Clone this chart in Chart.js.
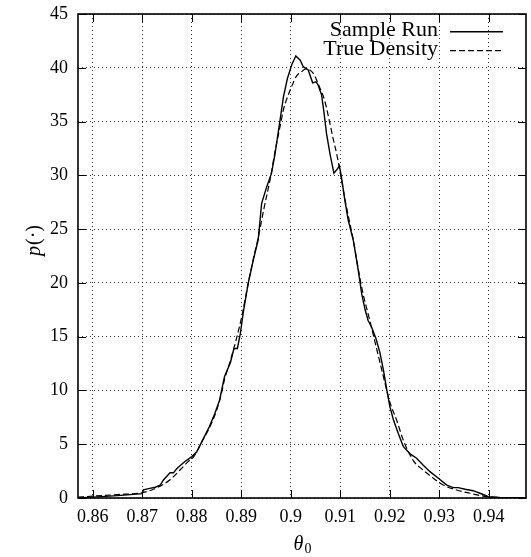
<!DOCTYPE html>
<html>
<head>
<meta charset="utf-8">
<script src="https://cdn.jsdelivr.net/npm/chart.js@4.4.1/dist/chart.umd.min.js"></script>
<style>
  html, body { margin: 0; padding: 0; background: #fff; }
  #wrap { width: 531px; height: 557px; }
</style>
</head>
<body>
<div id="wrap"><canvas id="chart" width="531" height="557"></canvas></div>
<script>
// Values.
const seriesLabels = ['Sample Run', 'True Density'];

const sampleX = [
  0.8570, 0.8600, 0.8650, 0.8700, 0.8702, 0.8715, 0.8726, 0.8736, 0.8743, 0.8756,
  0.8763, 0.8770, 0.8776, 0.8786, 0.8800, 0.8810, 0.8823, 0.8835, 0.8846, 0.8856,
  0.8866, 0.8878, 0.8885, 0.8892, 0.8898, 0.8904, 0.8914, 0.8924, 0.8934, 0.8941,
  0.8951, 0.8961, 0.8968, 0.8978, 0.8985, 0.8993, 0.9002, 0.9010, 0.9019, 0.9025,
  0.9035, 0.9044, 0.9051, 0.9055, 0.9062, 0.9067, 0.9072, 0.9079, 0.9087, 0.9094,
  0.9098, 0.9103, 0.9109, 0.9116, 0.9126, 0.9136, 0.9143, 0.9150, 0.9156, 0.9163,
  0.9172, 0.9180, 0.9187, 0.9194, 0.9200, 0.9207, 0.9217, 0.9227, 0.9241, 0.9254,
  0.9267, 0.9281, 0.9298, 0.9315, 0.9328, 0.9338, 0.9352, 0.9368, 0.9382, 0.9399,
  0.9422, 0.9475
];
const sampleY = [
  0.0, 0.08, 0.22, 0.4, 0.75, 0.9, 1.0, 1.2, 1.7, 2.35,
  2.35, 2.75, 3.0, 3.4, 3.85, 4.3, 5.5, 6.6, 7.8, 9.1,
  11.3, 12.6, 13.9, 13.9, 15.3, 17.3, 20.0, 22.1, 24.0, 27.4,
  28.9, 30.2, 32.0, 35.1, 37.3, 39.0, 40.3, 41.1, 40.7, 40.1,
  39.8, 38.6, 38.7, 38.4, 37.5, 35.8, 33.9, 32.0, 30.2, 30.6,
  30.9, 29.6, 27.7, 25.8, 24.0, 21.2, 19.0, 17.5, 16.5, 15.9,
  14.8, 13.5, 11.9, 10.0, 8.5, 7.3, 6.0, 4.8, 4.1, 3.7,
  3.07, 2.45, 1.83, 1.2, 0.96, 0.96, 0.81, 0.68, 0.44, 0.12,
  0.06, 0.03
];

const densityX = [
  0.8570, 0.8600, 0.8650, 0.8700, 0.8727, 0.8756, 0.8776, 0.8793, 0.8803, 0.8820,
  0.8843, 0.8857, 0.8866, 0.8878, 0.8890, 0.8900, 0.8914, 0.8924, 0.8934, 0.8946,
  0.8958, 0.8968, 0.8978, 0.8985, 0.8991, 0.9001, 0.9011, 0.9021, 0.9030, 0.9045,
  0.9058, 0.9068, 0.9079, 0.9086, 0.9093, 0.9100, 0.9110, 0.9126, 0.9143, 0.9160,
  0.9170, 0.9180, 0.9190, 0.9200, 0.9214, 0.9227, 0.9247, 0.9267, 0.9288, 0.9308,
  0.9335, 0.9362, 0.9396, 0.9420, 0.9475
];
const densityY = [
  0.08, 0.18, 0.32, 0.5, 0.9, 1.7, 2.6, 3.4, 3.8, 5.2,
  7.3, 9.2, 11.0, 12.8, 14.8, 16.7, 20.0, 22.2, 24.2, 27.0,
  29.6, 32.2, 34.5, 36.1, 37.0, 38.2, 39.2, 39.6, 39.9, 39.5,
  38.2, 37.0, 34.8, 33.3, 31.9, 30.2, 27.6, 24.0, 19.6, 16.4,
  14.5, 12.6, 10.7, 8.9, 7.2, 5.4, 3.5, 2.6, 1.83, 1.2,
  0.74, 0.44, 0.12, 0.05, 0.02
];

const xTicks = [0.86, 0.87, 0.88, 0.89, 0.90, 0.91, 0.92, 0.93, 0.94];
const yTicks = [0, 5, 10, 15, 20, 25, 30, 35, 40, 45];
const xRange = [0.857, 0.9475];
const yRange = [0, 45];
const xTitle = ['θ', '0'];
const yTitle = ['p', '(·)'];

const SERIF = '"Liberation Serif", "DejaVu Serif", serif';

function pairs(xs, ys) {
  return xs.map((x, i) => ({ x: x, y: ys[i] }));
}

// Gnuplot-style frame, inward ticks, legend and axis titles.
const decorPlugin = {
  id: 'decor',
  afterDraw(chart) {
    const ctx = chart.ctx;
    const a = chart.chartArea;
    const sx = chart.scales.x, sy = chart.scales.y;
    ctx.save();

    // inward tick marks on all four sides
    ctx.strokeStyle = '#000';
    ctx.lineWidth = 1;
    ctx.setLineDash([]);
    ctx.beginPath();
    sx.ticks.forEach((t) => {
      const px = Math.round(sx.getPixelForValue(t.value)) + 0.5;
      ctx.moveTo(px, a.bottom); ctx.lineTo(px, a.bottom - 8);
      ctx.moveTo(px, a.top); ctx.lineTo(px, a.top + 8);
    });
    sy.ticks.forEach((t) => {
      const py = Math.round(sy.getPixelForValue(t.value)) + 0.5;
      ctx.moveTo(a.left, py); ctx.lineTo(a.left + 8, py);
      ctx.moveTo(a.right, py); ctx.lineTo(a.right - 8, py);
    });
    ctx.stroke();

    ctx.lineWidth = 1.6;
    ctx.strokeRect(a.left, a.top, a.right - a.left, a.bottom - a.top);

    // legend: text right-aligned, line sample to the right
    ctx.font = '22px ' + SERIF;
    ctx.fillStyle = '#000';
    ctx.textAlign = 'right';
    ctx.textBaseline = 'alphabetic';
    chart.data.datasets.forEach((ds, i) => {
      ctx.fillText(ds.label, a.right - 88, a.top + 22 + i * 18.5);
      const ly = a.top + 17.7 + i * 19;
      ctx.lineWidth = ds.borderWidth;
      ctx.setLineDash(ds.borderDash || []);
      ctx.beginPath();
      ctx.moveTo(a.right - 76, ly);
      ctx.lineTo(a.right - 23, ly);
      ctx.stroke();
    });
    ctx.setLineDash([]);

    // x title: italic theta with subscript 0
    const cx = (a.left + a.right) / 2;
    ctx.textAlign = 'left';
    ctx.font = 'italic 20px ' + SERIF;
    const wTheta = ctx.measureText(xTitle[0]).width;
    ctx.font = '14px ' + SERIF;
    const wSub = ctx.measureText(xTitle[1]).width;
    const x0 = cx - (wTheta + wSub) / 2;
    ctx.font = 'italic 20px ' + SERIF;
    ctx.fillText(xTitle[0], x0, 550);
    ctx.font = '14px ' + SERIF;
    ctx.fillText(xTitle[1], x0 + wTheta + 1, 553);

    // y title: italic p followed by upright (·), rotated
    ctx.translate(40, 241);
    ctx.rotate(-Math.PI / 2);
    ctx.font = 'italic 20px ' + SERIF;
    const wP = ctx.measureText(yTitle[0]).width;
    ctx.font = '20px ' + SERIF;
    const wRest = ctx.measureText(yTitle[1]).width;
    const y0 = -(wP + wRest) / 2;
    ctx.font = 'italic 20px ' + SERIF;
    ctx.fillText(yTitle[0], y0, 0);
    ctx.font = '20px ' + SERIF;
    ctx.fillText(yTitle[1], y0 + wP + 1, 0);

    ctx.restore();
  }
};

new Chart(document.getElementById('chart'), {
  type: 'scatter',
  data: {
    datasets: [
      {
        label: seriesLabels[0],
        data: pairs(sampleX, sampleY),
        showLine: true,
        borderColor: '#000',
        borderWidth: 1.4,
        pointRadius: 0,
        tension: 0
      },
      {
        label: seriesLabels[1],
        data: pairs(densityX, densityY),
        showLine: true,
        borderColor: '#000',
        borderWidth: 1.2,
        borderDash: [6, 3],
        pointRadius: 0,
        cubicInterpolationMode: 'monotone'
      }
    ]
  },
  options: {
    responsive: false,
    animation: false,
    events: [],
    devicePixelRatio: 1,
    layout: { padding: { top: 14, right: 5, left: 0, bottom: 0 } },
    plugins: { legend: { display: false }, tooltip: { enabled: false } },
    scales: {
      x: {
        type: 'linear',
        min: xRange[0],
        max: xRange[1],
        afterBuildTicks: (scale) => { scale.ticks = xTicks.map((v) => ({ value: v })); },
        afterFit: (scale) => {
          scale.height = 59;
          scale.paddingLeft = 0;
          scale.paddingRight = 0;
        },
        ticks: {
          color: '#000',
          padding: 8,
          maxRotation: 0,
          font: { family: SERIF, size: 18 },
          callback: (v) => String(+v.toFixed(2))
        },
        grid: { color: 'rgba(0,0,0,0.8)', lineWidth: 1, drawTicks: false },
        border: { display: false, dash: [1, 3] }
      },
      y: {
        type: 'linear',
        min: yRange[0],
        max: yRange[1],
        afterBuildTicks: (scale) => { scale.ticks = yTicks.map((v) => ({ value: v })); },
        afterFit: (scale) => {
          scale.width = 78;
          scale.paddingTop = 0;
          scale.paddingBottom = 0;
        },
        ticks: {
          color: '#000',
          padding: 10,
          font: { family: SERIF, size: 18 },
          callback: (v) => String(v)
        },
        grid: { color: 'rgba(0,0,0,0.8)', lineWidth: 1, drawTicks: false },
        border: { display: false, dash: [1, 3] }
      }
    }
  },
  plugins: [decorPlugin]
});
</script>
</body>
</html>
